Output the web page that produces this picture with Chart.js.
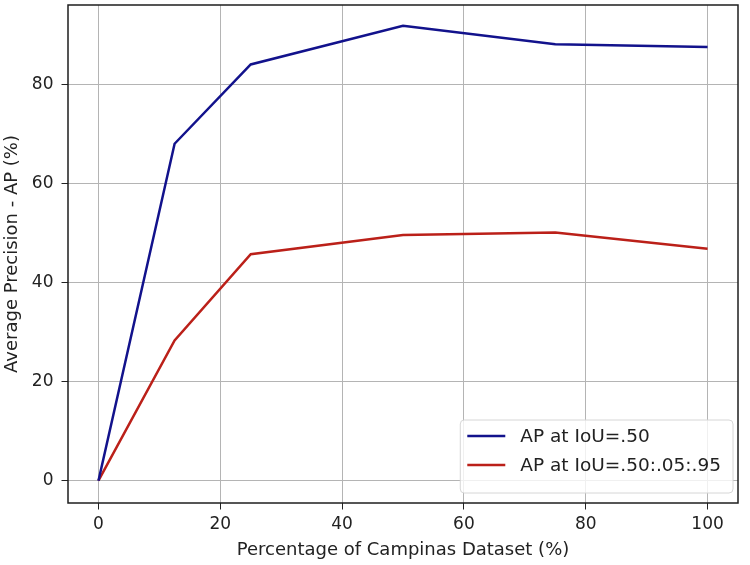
<!DOCTYPE html>
<html>
<head>
<meta charset="utf-8">
<script src="https://cdn.jsdelivr.net/npm/chart.js@4.4.1/dist/chart.umd.min.js"></script>
<style>
  html, body { margin: 0; padding: 0; background: #fff; }
  #wrap { width: 750px; height: 565px; }
</style>
</head>
<body>
<div id="wrap"><canvas id="apChart"></canvas></div>
<script>
const percentages = [0, 12.5, 25, 50, 75, 100];
const apIoU50 = [0, 68.0, 84.0, 91.8, 88.1, 87.5];
const apIoU5095 = [0, 28.3, 45.7, 49.6, 50.1, 46.8];
const xTicks = [0, 20, 40, 60, 80, 100];
const yTicks = [0, 20, 40, 60, 80];

const FONT = "'DejaVu Sans', sans-serif";

// frame round the plot + legend in the lower right corner
const framePlugin = {
  id: 'frame',
  afterDatasetsDraw(chart) {
    const { ctx, chartArea: a } = chart;
    ctx.save();
    ctx.strokeStyle = '#1e1e1e';
    ctx.lineWidth = 1.5;
    ctx.strokeRect(a.left, a.top, a.right - a.left, a.bottom - a.top);

    ctx.font = '18.5px ' + FONT;
    const sets = chart.data.datasets;
    let textW = 0;
    sets.forEach(d => { textW = Math.max(textW, ctx.measureText(d.label).width); });
    const rowH = 29;
    const w = 7 + 38 + 15 + textW + 12;
    const h = 15 + rowH * sets.length;
    const right = a.right - 5;
    const bottom = a.bottom - 10;
    const left = right - w;
    const top = bottom - h;
    ctx.beginPath();
    ctx.roundRect(left, top, w, h, 4);
    ctx.fillStyle = 'rgba(255,255,255,0.8)';
    ctx.fill();
    ctx.strokeStyle = '#d6d6d6';
    ctx.lineWidth = 1;
    ctx.stroke();
    sets.forEach((d, i) => {
      const y = top + 16 + i * rowH;
      ctx.strokeStyle = d.borderColor;
      ctx.lineWidth = 2.5;
      ctx.beginPath();
      ctx.moveTo(left + 7, y);
      ctx.lineTo(left + 45, y);
      ctx.stroke();
      ctx.fillStyle = '#222';
      ctx.textBaseline = 'middle';
      ctx.fillText(d.label, left + 60, y + 1);
    });
    ctx.restore();
  }
};

const apChart = document.getElementById('apChart');
new Chart(apChart, {
  type: 'line',
  data: {
    datasets: [{
      label: 'AP at IoU=.50',
      data: percentages.map((x, i) => ({ x: x, y: apIoU50[i] })),
      borderColor: '#12128c',
      borderWidth: 2.5,
      pointRadius: 0,
      tension: 0
    }, {
      label: 'AP at IoU=.50:.05:.95',
      data: percentages.map((x, i) => ({ x: x, y: apIoU5095[i] })),
      borderColor: '#bb2019',
      borderWidth: 2.5,
      pointRadius: 0,
      tension: 0
    }]
  },
  options: {
    responsive: true,
    maintainAspectRatio: false,
    animation: false,
    layout: { padding: { top: 5, right: 12, left: 0, bottom: 0 } },
    plugins: {
      legend: { display: false },
      tooltip: { enabled: false }
    },
    scales: {
      x: {
        type: 'linear',
        min: -5,
        max: 105,
        afterBuildTicks: s => { s.ticks = xTicks.map(v => ({ value: v })); },
        afterFit: s => { s.height = 62; s.paddingLeft = 0; s.paddingRight = 0; },
        border: { display: false },
        grid: { color: '#b4b4b4', lineWidth: 1, tickColor: '#222', tickLength: 6.5 },
        ticks: { color: '#222', padding: 5, maxRotation: 0, font: { family: FONT, size: 17 } },
        title: {
          display: true,
          text: 'Percentage of Campinas Dataset (%)',
          color: '#222',
          padding: { top: 0, bottom: 4 },
          font: { family: FONT, size: 18 }
        }
      },
      y: {
        min: -4.5,
        max: 96,
        afterBuildTicks: s => { s.ticks = yTicks.map(v => ({ value: v })); },
        afterFit: s => { s.width = 68; s.paddingTop = 0; s.paddingBottom = 0; },
        border: { display: false },
        grid: { color: '#b4b4b4', lineWidth: 1, tickColor: '#222', tickLength: 6.5 },
        ticks: { color: '#222', padding: 8, font: { family: FONT, size: 17 } },
        title: {
          display: true,
          text: 'Average Precision - AP (%)',
          color: '#222',
          padding: { top: 2, bottom: 0 },
          font: { family: FONT, size: 18 }
        }
      }
    }
  },
  plugins: [framePlugin]
});
</script>
</body>
</html>
